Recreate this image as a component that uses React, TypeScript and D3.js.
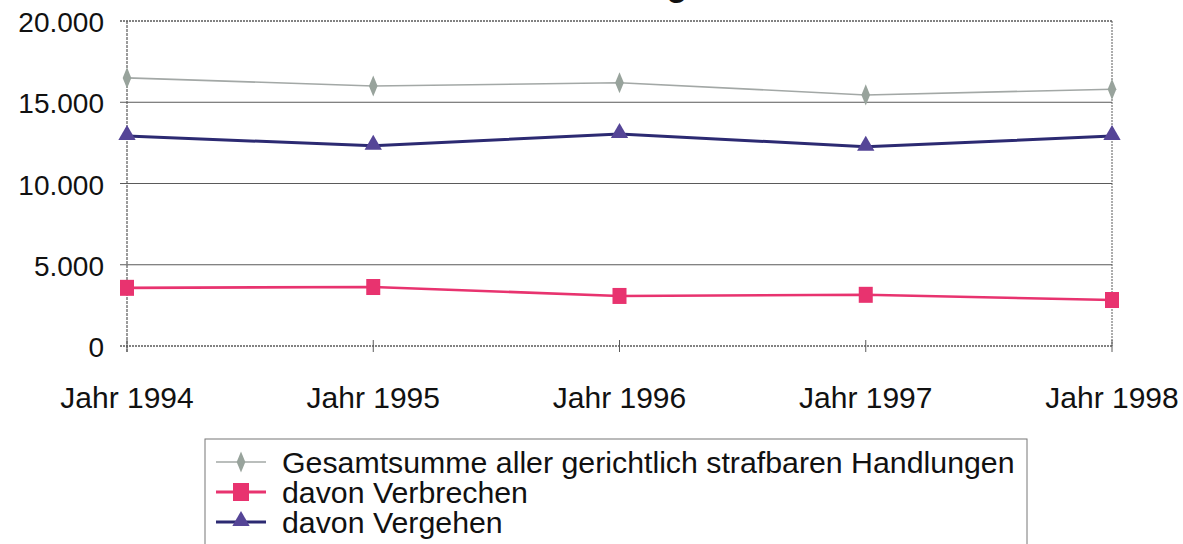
import React from "react";
import * as d3 from "d3";

const categories = ["Jahr 1994", "Jahr 1995", "Jahr 1996", "Jahr 1997", "Jahr 1998"];
const gesamt = [16500, 16000, 16200, 15450, 15800];
const verbrechen = [3580, 3630, 3080, 3150, 2830];
const vergehen = [12920, 12320, 13050, 12260, 12920];
const yTicks = [0, 5000, 10000, 15000, 20000];
const legendLabels = [
  "Gesamtsumme aller gerichtlich strafbaren Handlungen",
  "davon Verbrechen",
  "davon Vergehen",
];

const W = 1183;
const H = 544;
const FONT = "'Liberation Sans', Arial, Helvetica, sans-serif";

const fmt = (v: number) => (v === 0 ? "0" : d3.format(",")(v).replace(/,/g, "."));

export default function App() {
  const x = d3.scalePoint<string>().domain(categories).range([127, 1112]);
  const y = d3.scaleLinear().domain([0, 20000]).range([346, 21]);

  const line = d3
    .line<number>()
    .x((_, i) => x(categories[i]) as number)
    .y((d) => y(d));

  const diamond = d3.symbol().type(d3.symbolDiamond).size(90)() as string;
  const triangle = d3.symbol().type(d3.symbolTriangle).size(130)() as string;

  const gray = "#a3a8a6";
  const grayMarker = "#98a39c";
  const pink = "#e8336f";
  const navy = "#2c2a72";
  const purple = "#554597";
  const grid = "#5a5a5a";

  const legendRowsY = [462, 492, 522];

  return (
    <svg
      width={W}
      height={H}
      style={{ position: "absolute", left: 0, top: 0, background: "#fff" }}
      fontFamily={FONT}
    >
      {/* clipped title remnant */}
      <text x={677} y={-4} textAnchor="middle" fontSize={34} fontWeight="bold" fill="#111">
        g
      </text>

      {/* gridlines */}
      {yTicks.map((t) => (
        <line
          key={t}
          x1={120}
          x2={1112}
          y1={y(t)}
          y2={y(t)}
          stroke={grid}
          strokeWidth={t === 0 || t === 20000 ? 1.3 : 1}
          strokeDasharray={t === 0 || t === 20000 ? "2 1" : undefined}
        />
      ))}
      {/* y axis and right border */}
      <line x1={127} x2={127} y1={y(20000)} y2={y(0) + 6} stroke={grid} strokeWidth={1.2} strokeDasharray="3 1" />
      <line x1={1112} x2={1112} y1={y(20000)} y2={y(0)} stroke={grid} strokeWidth={1} strokeDasharray="2 1" />
      {/* x ticks */}
      {categories.map((c) => (
        <line key={c} x1={x(c)} x2={x(c)} y1={y(0) - 6} y2={y(0) + 6} stroke={grid} strokeWidth={1} />
      ))}

      {/* y labels */}
      {yTicks.map((t) => (
        <text key={t} x={104} y={y(t) + 11} textAnchor="end" fontSize={28} fill="#111">
          {fmt(t)}
        </text>
      ))}
      {/* x labels */}
      {categories.map((c) => (
        <text key={c} x={x(c)} y={408} textAnchor="middle" fontSize={30} fill="#111">
          {c}
        </text>
      ))}

      {/* series */}
      <path d={line(gesamt) as string} fill="none" stroke={gray} strokeWidth={1.6} />
      {gesamt.map((v, i) => (
        <path key={i} d={diamond} transform={`translate(${x(categories[i])},${y(v)}) scale(0.85,1.2)`} fill={grayMarker} />
      ))}

      <path d={line(vergehen) as string} fill="none" stroke={navy} strokeWidth={3} />
      {vergehen.map((v, i) => (
        <path key={i} d={triangle} transform={`translate(${x(categories[i])},${y(v) - 1})`} fill={purple} />
      ))}

      <path d={line(verbrechen) as string} fill="none" stroke={pink} strokeWidth={2.6} />
      {verbrechen.map((v, i) => (
        <rect key={i} x={(x(categories[i]) as number) - 7} y={y(v) - 8} width={14} height={16} fill={pink} />
      ))}

      {/* legend */}
      <rect x={205} y={439} width={822} height={140} fill="none" stroke="#777" strokeWidth={1} />
      {legendLabels.map((lab, i) => {
        const ly = legendRowsY[i];
        const col = i === 0 ? gray : i === 1 ? pink : navy;
        return (
          <g key={lab}>
            <line x1={216} x2={266} y1={ly} y2={ly} stroke={col} strokeWidth={i === 0 ? 1.6 : 3} />
            {i === 0 && (
              <path d={diamond} transform={`translate(241,${ly}) scale(0.85,1.2)`} fill={grayMarker} />
            )}
            {i === 1 && <rect x={233} y={ly - 9} width={16} height={18} fill={pink} />}
            {i === 2 && <path d={triangle} transform={`translate(241,${ly - 1})`} fill={purple} />}
            <text x={282} y={ly + 11} fontSize={30.3} fill="#111">
              {lab}
            </text>
          </g>
        );
      })}
    </svg>
  );
}
